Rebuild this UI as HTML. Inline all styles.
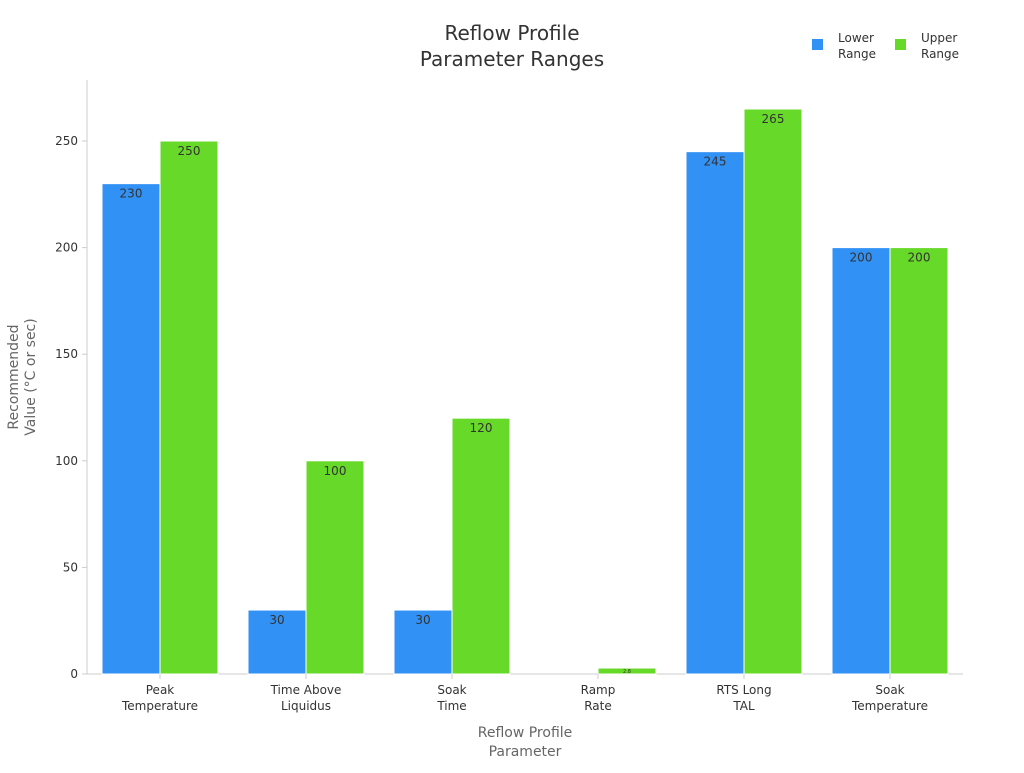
<!DOCTYPE html>
<html><head><meta charset="utf-8"><style>
body{margin:0;background:#fff;font-family:"Liberation Sans","DejaVu Sans",sans-serif}
svg text{font-family:"DejaVu Sans","Liberation Sans",sans-serif}
</style></head><body>
<svg id="chart" width="1024" height="768">
<text x="512" y="40" text-anchor="middle" font-size="20" fill="#333">Reflow Profile</text>
<text x="512" y="66" text-anchor="middle" font-size="20" fill="#333">Parameter Ranges</text>
<g><rect x="812" y="39" width="11" height="11" fill="#3291f5"/><text x="838" y="42" font-size="12" fill="#333">Lower</text><text x="838" y="58" font-size="12" fill="#333">Range</text></g>
<g><rect x="895" y="39" width="11" height="11" fill="#67d928"/><text x="921" y="42" font-size="12" fill="#333">Upper</text><text x="921" y="58" font-size="12" fill="#333">Range</text></g>
<line x1="87" y1="80" x2="87" y2="674" stroke="#ccc"/>
<line x1="87" y1="674" x2="963" y2="674" stroke="#ccc"/>
<g id="yt"></g><g id="bars"></g><g id="xt"></g>
<text transform="translate(18,377) rotate(-90)" text-anchor="middle" font-size="14" fill="#666"><tspan x="0" dy="0">Recommended</tspan><tspan x="0" dy="17">Value (°C or sec)</tspan></text>
<text x="525" y="737" text-anchor="middle" font-size="14" fill="#666">Reflow Profile</text>
<text x="525" y="756" text-anchor="middle" font-size="14" fill="#666">Parameter</text>
</svg>
<script>
const categories=[["Peak","Temperature"],["Time Above","Liquidus"],["Soak","Time"],["Ramp","Rate"],["RTS Long","TAL"],["Soak","Temperature"]];
const lowerValues=[230,30,30,0,245,200];
const upperValues=[250,100,120,2.8,265,200];
const yTicks=[0,50,100,150,200,250];
const NS="http://www.w3.org/2000/svg";
const y=v=>674-v*533/250;
const xc=i=>160+i*146;
function mk(tag,attrs,parent,txt){const e=document.createElementNS(NS,tag);for(const k in attrs)e.setAttribute(k,attrs[k]);if(txt!==undefined)e.textContent=txt;parent.appendChild(e);return e;}
const yt=document.getElementById('yt'),bars=document.getElementById('bars'),xt=document.getElementById('xt');
yTicks.forEach(t=>{
const g=mk('g',{},yt);


mk('line',{x1:82,x2:87,y1:y(t),y2:y(t),stroke:'#ccc'},g);
mk('text',{x:78,y:y(t)+4,'text-anchor':'end','font-size':12,fill:'#333'},g,t);
});
categories.forEach((c,i)=>{
const g=mk('g',{},xt);


mk('line',{x1:xc(i),x2:xc(i),y1:674,y2:679,stroke:'#ccc'},g);
mk('text',{x:xc(i),y:694,'text-anchor':'middle','font-size':12,fill:'#333'},g,c[0]);
mk('text',{x:xc(i),y:710,'text-anchor':'middle','font-size':12,fill:'#333'},g,c[1]);
[[lowerValues[i],-58,'#3291f5','lower'],[upperValues[i],0,'#67d928','upper']].forEach(([v,dx,col,nm])=>{
if(v<=0)return;
const r=mk('rect',{x:xc(i)+dx,y:y(v),width:58,height:674-y(v),fill:col,stroke:'#fff','stroke-width':1},bars);


const small=(674-y(v))<15;
const l=mk('text',{x:xc(i)+dx+29,y:small?y(v)+5:y(v)+14,'text-anchor':'middle','font-size':small?5:12,fill:'#333'},bars,v);


});
});
</script>
</body></html>
